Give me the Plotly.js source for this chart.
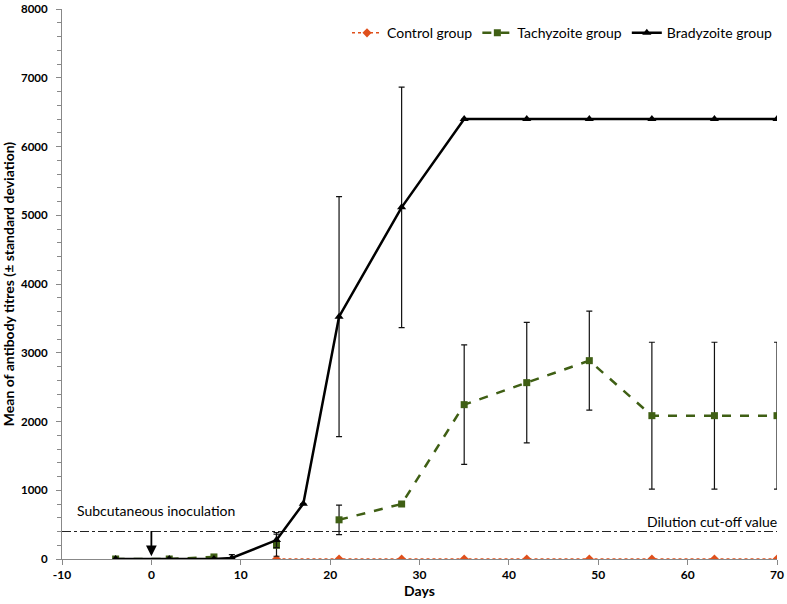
<!DOCTYPE html>
<html>
<head>
<meta charset="utf-8">
<script src="https://cdn.plot.ly/plotly-3.0.1.min.js"></script>
<style>html,body{margin:0;padding:0;background:#fff}#chart{width:787px;height:604px}</style>
</head>
<body>
<div id="chart"></div>
<script>
// Data (null = break in the line)
const controlDays = [14, 21, 28, 35, 42, 49, 56, 63, 70];
const controlMean = [0, 0, 0, 0, 0, 0, 0, 0, 0];

const tachyDays = [-4, 2, 7, null, 14, null, 21, 28, 35, 42, 49, 56, 63, 70];
const tachyMean = [0, 0, 30, null, 200, null, 570, 800, 2245, 2565, 2885, 2085, 2085, 2085];
const tachySD   = [0, 0, 0, null, 160, null, 215, 0, 870, 877, 720, 1068, 1068, 1068];

const bradyDays = [-4, 2, 7, 9, 14, 17, 21, 28, 35, 42, 49, 56, 63, 70];
const bradyMean = [0, 0, 0, 15, 275, 805, 3525, 5115, 6400, 6400, 6400, 6400, 6400, 6400];
const bradySD   = [0, 0, 0, 50, 110, 0, 1745, 1750, 0, 0, 0, 0, 0, 0];

const cutoffDays = [-10, 70];
const cutoffValue = [400, 400];

const xTickVals = [-10, 0, 10, 20, 30, 40, 50, 60, 70];
const yTickVals = [0, 1000, 2000, 3000, 4000, 5000, 6000, 7000, 8000];

const FONT = 'Lato, "Open Sans", sans-serif';

const traces = [
  {
    x: cutoffDays, y: cutoffValue, mode: 'lines', showlegend: false, hoverinfo: 'skip',
    line: {color: '#222', width: 1, dash: 'dashdot'}
  },
  {
    name: 'Control group', x: controlDays, y: controlMean, mode: 'lines+markers',
    line: {color: '#e0501c', width: 1.5, dash: 'dot'},
    marker: {symbol: 'diamond', size: 7, color: '#e0501c'}
  },
  {
    name: 'Tachyzoite group', x: tachyDays, y: tachyMean, mode: 'lines+markers',
    connectgaps: false,
    line: {color: '#3f5f14', width: 2.5, dash: 'dash'},
    marker: {symbol: 'square', size: 7, color: '#3f5f14'},
    error_y: {type: 'data', array: tachySD, visible: true, color: '#111', thickness: 1.2, width: 3}
  },
  {
    name: 'Bradyzoite group', x: bradyDays, y: bradyMean, mode: 'lines+markers',
    line: {color: '#000', width: 2.5},
    marker: {symbol: 'triangle-up', size: 8, color: '#000'},
    error_y: {type: 'data', array: bradySD, visible: true, color: '#111', thickness: 1.2, width: 3}
  }
];

const layout = {
  width: 787, height: 604,
  margin: {l: 62, r: 10, t: 9, b: 45},
  paper_bgcolor: '#fff', plot_bgcolor: '#fff',
  font: {family: FONT, color: '#000'},
  showlegend: true,
  legend: {
    orientation: 'h', x: 1.0, xanchor: 'right', y: 0.985, yanchor: 'top',
    font: {family: FONT, size: 14, color: '#000'}, bgcolor: 'rgba(0,0,0,0)',
    traceorder: 'normal'
  },
  xaxis: {
    range: [-10, 70], tickvals: xTickVals, ticktext: xTickVals.map(String),
    showgrid: false, zeroline: false, showline: true, linecolor: '#888', linewidth: 1,
    ticks: 'outside', ticklen: 5, tickcolor: '#888',
    tickfont: {family: FONT, size: 12, color: '#000', weight: 'bold'},
    title: {text: '<b>Days</b>', font: {family: FONT, size: 14, color: '#000'}, standoff: 2}
  },
  yaxis: {
    range: [0, 8000], tickvals: yTickVals, ticktext: yTickVals.map(String),
    showgrid: false, zeroline: false, showline: true, linecolor: '#888', linewidth: 1,
    ticks: 'outside', ticklen: 5, tickcolor: '#888',
    ticklabelstandoff: 6,
    minor: {dtick: 200, ticks: 'outside', ticklen: 4, tickcolor: '#888'},
    tickfont: {family: FONT, size: 11.5, color: '#000', weight: 'bold'},
    title: {text: '<b>Mean of antibody titres (± standard deviation)</b>', font: {family: FONT, size: 14, color: '#000'}, standoff: 8}
  },
  annotations: [
    {
      x: 0, y: 40, xref: 'x', yref: 'y', ax: 0, ay: 430, axref: 'x', ayref: 'y',
      showarrow: true, arrowhead: 2, arrowsize: 1.2, arrowwidth: 1.8, arrowcolor: '#000', text: ''
    },
    {
      x: -8.5, y: 710, xref: 'x', yref: 'y', xanchor: 'left', yanchor: 'middle',
      text: 'Subcutaneous inoculation', showarrow: false,
      font: {family: FONT, size: 14, color: '#000'}
    },
    {
      x: 70, y: 550, xref: 'x', yref: 'y', xanchor: 'right', yanchor: 'middle', xshift: 2,
      text: 'Dilution cut-off value', showarrow: false,
      font: {family: FONT, size: 14, color: '#000'}
    }
  ]
};

Plotly.newPlot('chart', traces, layout, {displayModeBar: false, staticPlot: true});
</script>
</body>
</html>
